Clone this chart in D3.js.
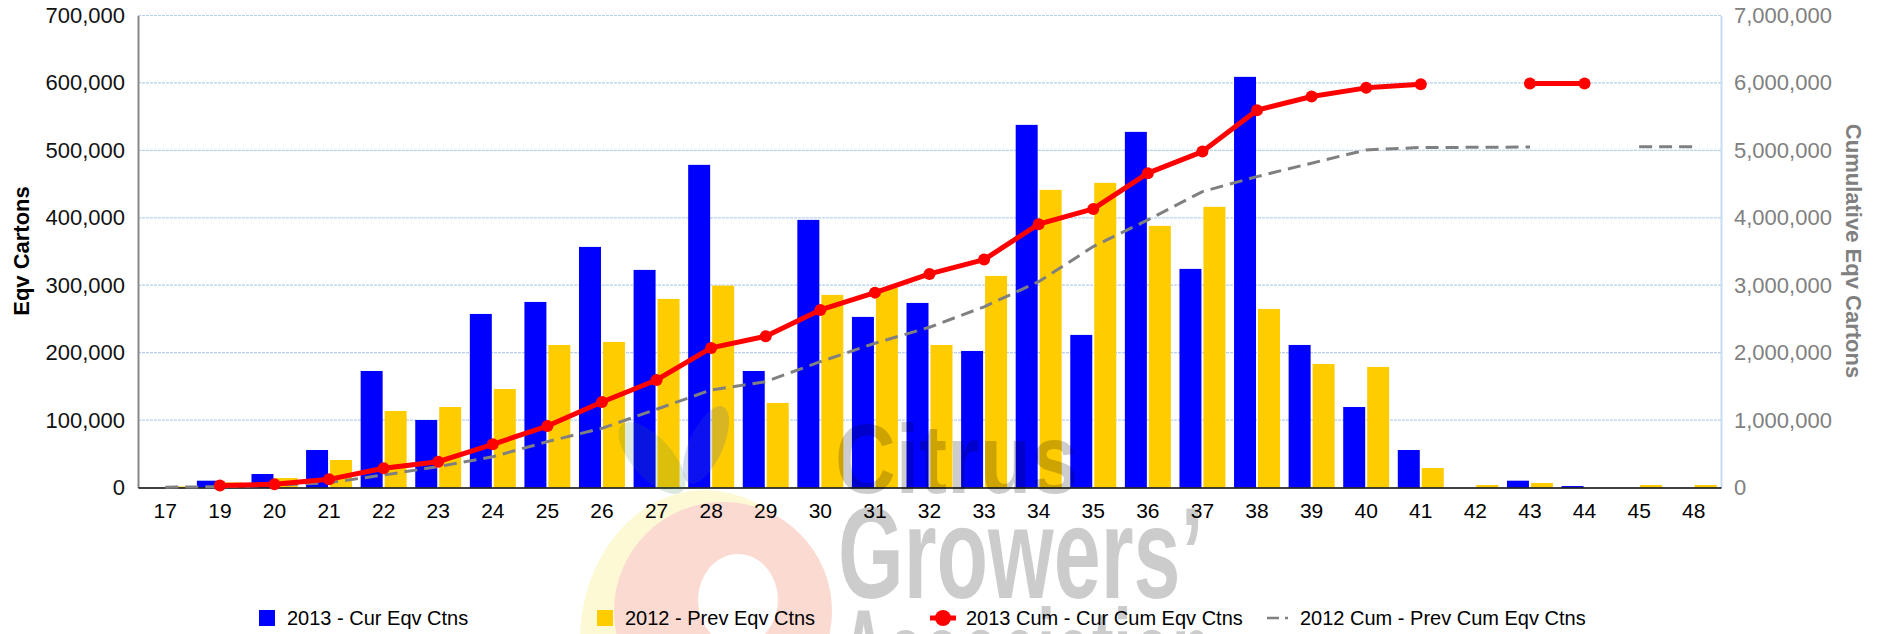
<!DOCTYPE html>
<html>
<head>
<meta charset="utf-8">
<script src="https://d3js.org/d3.v7.min.js"></script>
<style>
  body { margin: 0; background: #fff; }
  svg { font-family: "Liberation Sans", Arial, sans-serif; }
</style>
</head>
<body>
<script>

// week numbers on the x axis
var weeks = ["17","19","20","21","22","23","24","25","26","27","28","29","30","31","32","33","34","35","36","37","38","39","40","41","42","43","44","45","48"];

// weekly cartons
var curEqv = [0, 10100, 20000, 55600, 172800, 100100, 257400, 275200, 356800, 322700, 478500, 172800, 396900, 253000, 273700, 202500, 537800, 226300, 527400, 324200, 609000, 211400, 119400, 55600, 0, 10100, 2200, 0, 0];
var prevEqv = [1500, 7500, 14000, 40800, 113500, 119400, 146100, 211400, 215900, 279700, 299400, 125400, 285600, 296000, 211400, 313800, 441400, 451800, 388000, 416200, 264800, 183200, 178800, 28900, 3700, 6700, 0, 3700, 3700];

// cumulative cartons (null = no value that week)
var curCum = [null, 30000, 47000, 121000, 285000, 383000, 641000, 912000, 1268000, 1595000, 2070000, 2243000, 2634000, 2890000, 3168000, 3380000, 3905000, 4132000, 4662000, 4982000, 5596000, 5798000, 5927000, 5982000, null, 5991000, 5991000, null, null];
var prevCum = [5000, 12000, 32000, 72000, 185000, 309000, 457000, 680000, 878000, 1160000, 1447000, 1570000, 1866000, 2139000, 2377000, 2680000, 3053000, 3573000, 3969000, 4389000, 4611000, 4810000, 5007000, 5042000, 5045000, 5050000, null, 5052000, 5052000];

// tick values
var leftTicks = [0, 100000, 200000, 300000, 400000, 500000, 600000, 700000];
var rightTicks = [0, 1000000, 2000000, 3000000, 4000000, 5000000, 6000000, 7000000];

var legendNames = ["2013 - Cur Eqv Ctns", "2012 - Prev Eqv Ctns", "2013 Cum - Cur Cum Eqv Ctns", "2012 Cum - Prev Cum Eqv Ctns"];

var width = 1885, height = 634;
var margin = { left: 138, right: 164, top: 15.5, bottom: 146.5 };

var svg = d3.select("body").append("svg")
    .attr("width", width)
    .attr("height", height);

var x0 = d3.scaleBand()
    .domain(weeks)
    .range([margin.left, width - margin.right]);

var x1 = d3.scaleBand()
    .domain(["cur", "prev"])
    .range([0, x0.bandwidth()])
    .paddingInner(0.083)
    .paddingOuter(0.18);

var y = d3.scaleLinear()
    .domain([0, 700000])
    .range([height - margin.bottom, margin.top]);

var y2 = d3.scaleLinear()
    .domain([0, 7000000])
    .range([height - margin.bottom, margin.top]);

// logo circles behind the chart
var logo = svg.append("g");
logo.append("ellipse")
    .attr("cx", 705).attr("cy", 640).attr("rx", 125).attr("ry", 150)
    .attr("fill", "#fcf9d4");
logo.append("circle")
    .attr("cx", 723).attr("cy", 611).attr("r", 109)
    .attr("fill", "#fbdad2");
logo.append("ellipse")
    .attr("cx", 738).attr("cy", 600).attr("rx", 40).attr("ry", 46)
    .attr("fill", "#fff");

// grid lines
svg.append("g")
    .selectAll("line")
    .data(leftTicks.slice(1))
    .enter()
    .append("line")
    .attr("x1", margin.left)
    .attr("x2", width - margin.right)
    .attr("y1", function(d) { return y(d); })
    .attr("y2", function(d) { return y(d); })
    .attr("stroke", "#b8cfec")
    .attr("stroke-width", 1.2)
    .attr("stroke-dasharray", "3,1");

// bars
var groups = svg.append("g")
    .selectAll("g")
    .data(weeks)
    .enter()
    .append("g")
    .attr("transform", function(d) { return "translate(" + x0(d) + ",0)"; });

groups.append("rect")
    .attr("x", x1("cur"))
    .attr("width", x1.bandwidth())
    .attr("y", function(d, i) { return y(curEqv[i]); })
    .attr("height", function(d, i) { return y(0) - y(curEqv[i]); })
    .attr("fill", "#0000ff");

groups.append("rect")
    .attr("x", x1("prev"))
    .attr("width", x1.bandwidth())
    .attr("y", function(d, i) { return y(prevEqv[i]); })
    .attr("height", function(d, i) { return y(0) - y(prevEqv[i]); })
    .attr("fill", "#ffcc00");

// axes
var leftAxis = svg.append("g")
    .attr("transform", "translate(" + margin.left + ",0)")
    .call(d3.axisLeft(y).tickValues(leftTicks).tickFormat(d3.format(",")).tickSize(0).tickPadding(13));
leftAxis.select(".domain").attr("stroke", "#888").attr("stroke-width", 2);
leftAxis.selectAll("text").attr("font-size", "22px").attr("fill", "#111").attr("font-family", null);

var rightAxis = svg.append("g")
    .attr("transform", "translate(" + (width - margin.right) + ",0)")
    .call(d3.axisRight(y2).tickValues(rightTicks).tickFormat(d3.format(",")).tickSize(0).tickPadding(13));
rightAxis.select(".domain").attr("stroke", "#c6dcf6").attr("stroke-width", 2);
rightAxis.selectAll("text").attr("font-size", "22px").attr("fill", "#808080").attr("font-family", null);

var bottomAxis = svg.append("g")
    .attr("transform", "translate(0," + y(0) + ")")
    .call(d3.axisBottom(x0).tickSize(0).tickPadding(16));
bottomAxis.select(".domain").attr("stroke", "#000").attr("stroke-width", 1.5);
bottomAxis.selectAll("text").attr("font-size", "21px").attr("fill", "#000").attr("font-family", null);

// axis titles
svg.append("text")
    .attr("transform", "translate(28.5,251) rotate(-90)")
    .attr("text-anchor", "middle")
    .attr("font-size", "22px")
    .attr("font-weight", "bold")
    .attr("fill", "#000")
    .text("Eqv Cartons");

svg.append("text")
    .attr("transform", "translate(1846,251) rotate(90)")
    .attr("text-anchor", "middle")
    .attr("font-size", "22px")
    .attr("font-weight", "bold")
    .attr("fill", "#808080")
    .text("Cumulative Eqv Cartons");

// cumulative lines
var cx = function(i) { return x0(weeks[i]) + x0.bandwidth() / 2; };

var prevLine = d3.line()
    .defined(function(d) { return d != null; })
    .x(function(d, i) { return cx(i); })
    .y(function(d) { return y2(d); });

svg.append("path")
    .attr("d", prevLine(prevCum))
    .attr("fill", "none")
    .attr("stroke", "#808080")
    .attr("stroke-width", 3)
    .attr("stroke-dasharray", "13,7");

var curLine = d3.line()
    .defined(function(d) { return d != null; })
    .x(function(d, i) { return cx(i); })
    .y(function(d) { return y2(d); });

svg.append("path")
    .attr("d", curLine(curCum))
    .attr("fill", "none")
    .attr("stroke", "#ff0000")
    .attr("stroke-width", 5)
    .attr("stroke-linejoin", "round");

svg.append("g")
    .selectAll("circle")
    .data(curCum.map(function(d, i) { return { v: d, i: i }; }).filter(function(d) { return d.v != null; }))
    .enter()
    .append("circle")
    .attr("cx", function(d) { return cx(d.i); })
    .attr("cy", function(d) { return y2(d.v); })
    .attr("r", 6)
    .attr("fill", "#ff0000");

// legend
var legend = svg.append("g").attr("font-size", "20px");

legend.append("rect").attr("x", 259).attr("y", 610).attr("width", 16).attr("height", 16).attr("fill", "#0000ff");
legend.append("text").attr("x", 287).attr("y", 625).text(legendNames[0]);

legend.append("rect").attr("x", 597).attr("y", 610).attr("width", 16).attr("height", 16).attr("fill", "#ffcc00");
legend.append("text").attr("x", 625).attr("y", 625).text(legendNames[1]);

legend.append("line").attr("x1", 930).attr("x2", 956).attr("y1", 618).attr("y2", 618)
    .attr("stroke", "#ff0000").attr("stroke-width", 5);
legend.append("circle").attr("cx", 943).attr("cy", 618).attr("r", 8).attr("fill", "#ff0000");
legend.append("text").attr("x", 966).attr("y", 625).text(legendNames[2]);

legend.append("line").attr("x1", 1267).attr("x2", 1294).attr("y1", 618).attr("y2", 618)
    .attr("stroke", "#808080").attr("stroke-width", 2.5).attr("stroke-dasharray", "12,6,3,6");
legend.append("text").attr("x", 1300).attr("y", 625).text(legendNames[3]);

// watermark on top
var wm = svg.append("g")
    .attr("font-family", "'Liberation Sans Narrow', 'Arial Narrow', 'Liberation Sans', Arial, sans-serif")
    .attr("font-weight", "bold")
    .attr("fill", "#000")
    .attr("fill-opacity", 0.2);

wm.append("ellipse")
    .attr("transform", "translate(652,458) rotate(48)")
    .attr("rx", 45).attr("ry", 20)
    .attr("fill", "#2e7a50").attr("fill-opacity", 0.17);
wm.append("ellipse")
    .attr("transform", "translate(706,445) rotate(-66)")
    .attr("rx", 42).attr("ry", 17)
    .attr("fill", "#3a5cb0").attr("fill-opacity", 0.2);

wm.append("text").attr("x", 835).attr("y", 493).attr("font-size", "98px")
    .attr("textLength", 243).attr("lengthAdjust", "spacingAndGlyphs").text("Citrus");
wm.append("text").attr("x", 838).attr("y", 598).attr("font-size", "130px")
    .attr("textLength", 366).attr("lengthAdjust", "spacingAndGlyphs").text("Growers\u2019");
wm.append("text").attr("x", 840).attr("y", 700).attr("font-size", "130px")
    .attr("textLength", 372).attr("lengthAdjust", "spacingAndGlyphs").text("Association");

</script>
</body>
</html>
